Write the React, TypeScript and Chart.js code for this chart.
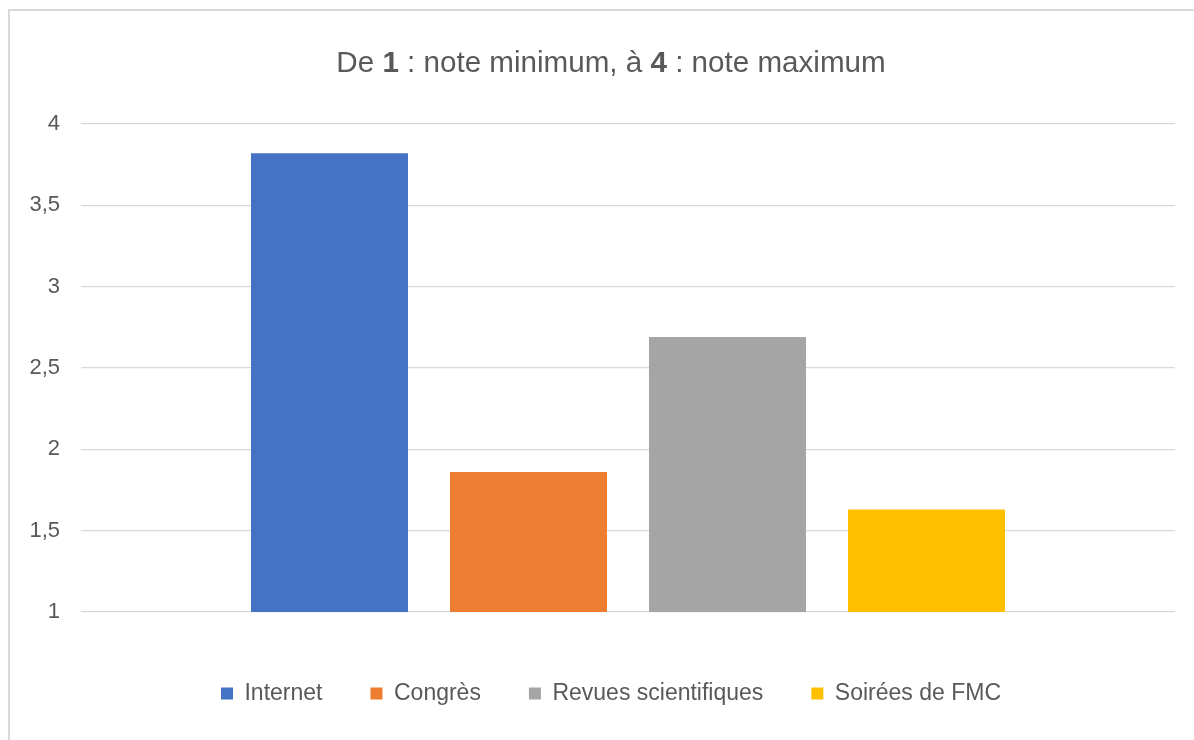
import React, { useEffect, useRef } from "react";
import { Chart, registerables } from "chart.js";

Chart.register(...registerables);

const categories: string[] = [""];
const seriesNames: string[] = ["Internet", "Congrès", "Revues scientifiques", "Soirées de FMC"];
const internetValues: number[] = [3.82];
const congresValues: number[] = [1.86];
const revuesValues: number[] = [2.69];
const soireesValues: number[] = [1.63];
const seriesColors: string[] = ["#4472C4", "#ED7D31", "#A5A5A5", "#FFC000"];
const yTickValues: number[] = [1, 1.5, 2, 2.5, 3, 3.5, 4];
const titleParts: { text: string; bold: boolean }[] = [
  { text: "De ", bold: false },
  { text: "1", bold: true },
  { text: " : note minimum, à ", bold: false },
  { text: "4", bold: true },
  { text: " : note maximum", bold: false },
];

const FONT = "'Liberation Sans', Arial, Helvetica, sans-serif";
const TEXT_COLOR = "#595959";

const titlePlugin = {
  id: "richTitle",
  afterDraw(chart: any) {
    const ctx = chart.ctx as CanvasRenderingContext2D;
    ctx.save();
    const size = 29.6;
    const fontFor = (b: boolean) => `${b ? "bold " : ""}${size}px ${FONT}`;
    let total = 0;
    const widths = titleParts.map((p) => {
      ctx.font = fontFor(p.bold);
      const w = ctx.measureText(p.text).width;
      total += w;
      return w;
    });
    let x = chart.width / 2 - total / 2;
    const y = 60;
    ctx.fillStyle = TEXT_COLOR;
    ctx.textBaseline = "alphabetic";
    ctx.textAlign = "left";
    titleParts.forEach((p, i) => {
      ctx.font = fontFor(p.bold);
      ctx.fillText(p.text, x, y);
      x += widths[i];
    });
    ctx.restore();
  },
};

export default function App() {
  const canvasRef = useRef<HTMLCanvasElement | null>(null);

  useEffect(() => {
    if (!canvasRef.current) return;
    const valuesList = [internetValues, congresValues, revuesValues, soireesValues];
    const chart = new Chart(canvasRef.current, {
      type: "bar",
      data: {
        labels: categories,
        datasets: seriesNames.map((name, i) => ({
          label: name,
          data: valuesList[i],
          backgroundColor: seriesColors[i],
          borderWidth: 0,
          categoryPercentage: 0.7276,
          barPercentage: 0.789,
        })),
      },
      options: {
        responsive: false,
        animation: false,
        devicePixelRatio: 1,
        layout: { padding: { top: 112, left: 0, right: 0, bottom: 25 } },
        plugins: {
          title: { display: false },
          tooltip: { enabled: false },
          legend: {
            display: true,
            position: "bottom",
            labels: {
              boxWidth: 12,
              boxHeight: 12,
              padding: 48,
              color: TEXT_COLOR,
              font: { family: FONT, size: 23 },
            },
          },
        },
        scales: {
          x: {
            type: "category",
            display: true,
            grid: { display: false },
            border: { display: false },
            ticks: { display: false },
            afterFit: (axis: any) => {
              axis.height = 22;
            },
          },
          y: {
            type: "linear",
            position: "left",
            min: 1,
            max: 4,
            afterBuildTicks: (axis: any) => {
              axis.ticks = yTickValues.map((v) => ({ value: v }));
            },
            grid: { color: "#d9d9d9", lineWidth: 1.3, drawTicks: false },
            border: { display: false },
            ticks: {
              padding: 21,
              color: TEXT_COLOR,
              font: { family: FONT, size: 22 },
              callback: (v: any) => String(v).replace(".", ","),
            },
            afterFit: (axis: any) => {
              axis.width = 70;
            },
          },
          yR: {
            type: "linear",
            position: "right",
            display: true,
            grid: { display: false },
            border: { display: false },
            ticks: { display: false },
            afterFit: (axis: any) => {
              axis.width = 36;
            },
          },
        },
      },
      plugins: [titlePlugin],
    } as any);
    return () => chart.destroy();
  }, []);

  return (
    <div style={{ position: "fixed", left: 0, top: 0, width: 1194, height: 740, overflow: "hidden", background: "#fff" }}>
      <div
        style={{
          position: "absolute",
          left: 8,
          top: 9,
          width: 1400,
          height: 900,
          borderLeft: "2px solid #d9d9d9",
          borderTop: "2px solid #d9d9d9",
        }}
      />
      <canvas ref={canvasRef} width={1200} height={728} style={{ position: "absolute", left: 11, top: 12, display: "block" }} />
    </div>
  );
}
